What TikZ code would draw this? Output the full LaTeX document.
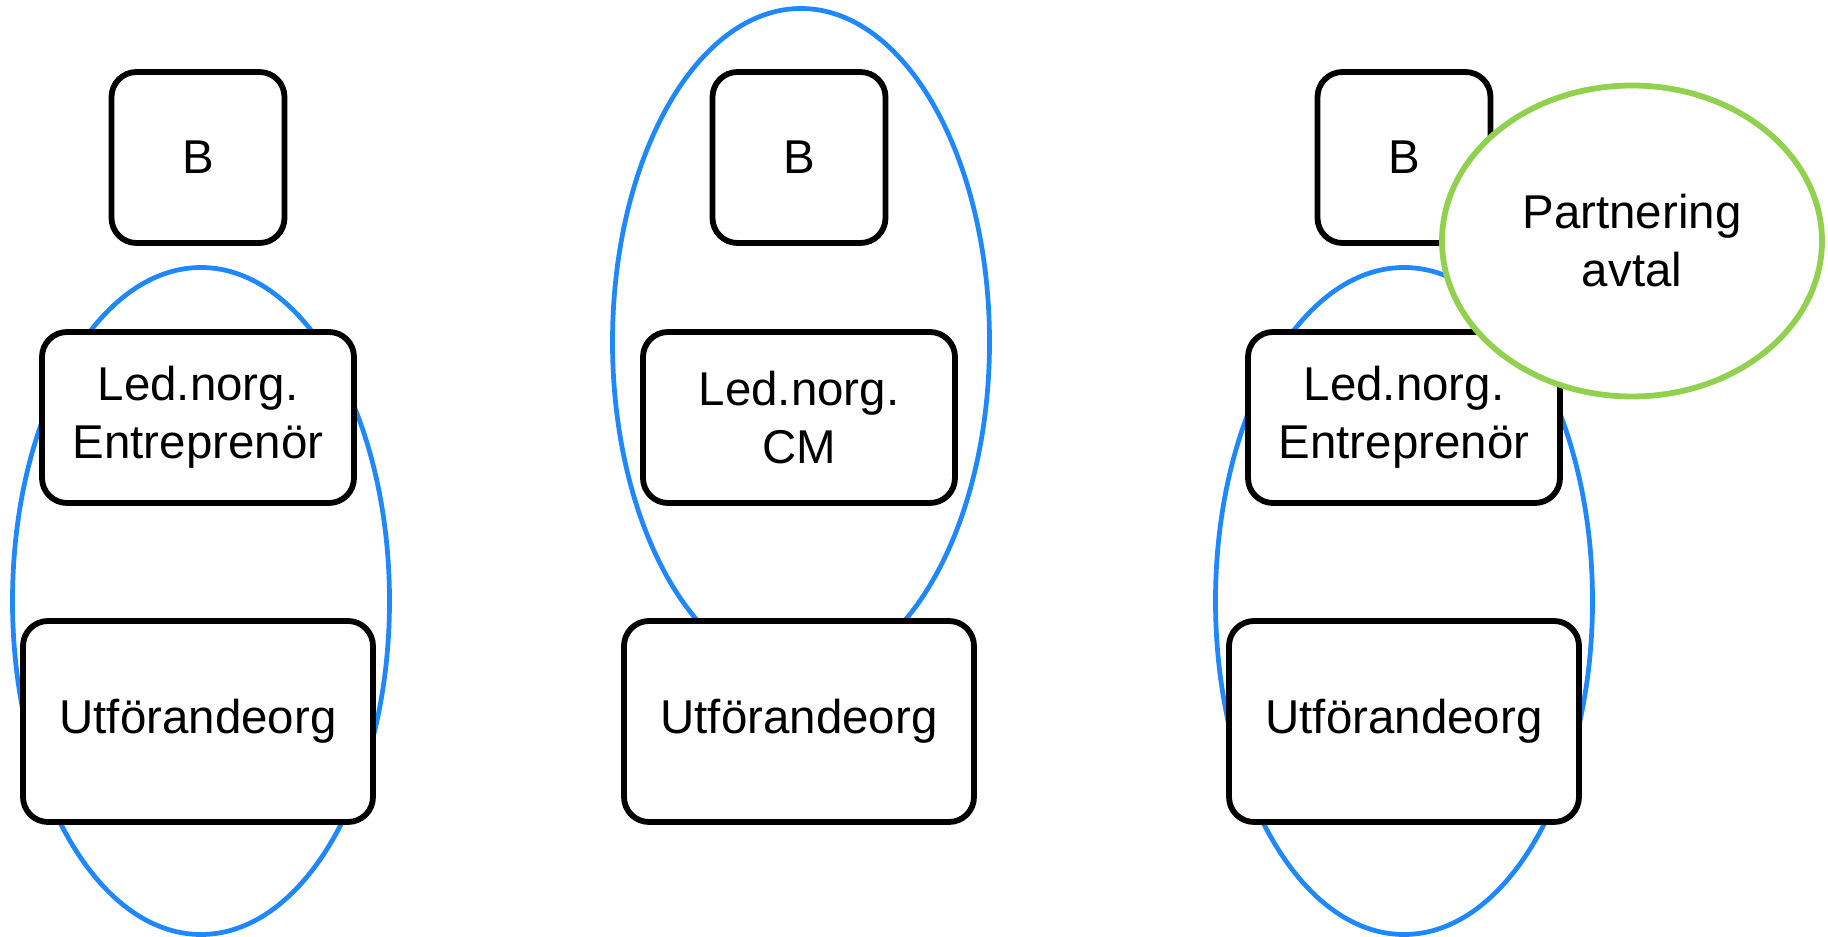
\documentclass[tikz,border=0pt]{standalone}
\usepackage{fontspec}
\setmainfont{Liberation Sans}
\usetikzlibrary{shapes.geometric}
\definecolor{grpblue}{RGB}{32,136,255}
\definecolor{avtalgreen}{RGB}{146,208,80}

\begin{document}
\begin{tikzpicture}
		\tikzset{
			orgbox/.style=
			{draw,line width=3.3pt,rounded corners=0.5cm,fill=white,align=center,
			font=\fontsize{27}{33}\selectfont,inner sep=0pt},
			grp/.style=
			{draw=grpblue,line width=2.7pt,ellipse,inner sep=0pt,
			minimum width=7.54cm,minimum height=13.34cm},
		}
		\useasboundingbox (0,0) rectangle (36.56,18.72);
		\begin{scope}[xshift=3.96cm]
		\node[grp] (grp1) at (0.06,6.70) {};
		\node[orgbox,minimum width=3.46cm,minimum height=3.42cm] (b1) at (0,15.57) {B};
		\node[orgbox,minimum width=6.24cm,minimum height=3.42cm] (led1) at (0,10.37) {Led.norg.\\Entreprenör};
		\node[orgbox,minimum width=7.0cm,minimum height=4.02cm] (utf1) at (0,4.29) {Utförandeorg};
		\end{scope}
		\begin{scope}[xshift=15.98cm]
		\node[grp] (grp2) at (0.04,11.88) {};
		\node[orgbox,minimum width=3.46cm,minimum height=3.42cm] (b2) at (0,15.57) {B};
		\node[orgbox,minimum width=6.24cm,minimum height=3.42cm] (led2) at (0,10.37) {Led.norg.\\CM};
		\node[orgbox,minimum width=7.0cm,minimum height=4.02cm] (utf2) at (0,4.29) {Utförandeorg};
		\end{scope}
		\begin{scope}[xshift=28.08cm]
		\node[grp] (grp3) at (0,6.70) {};
		\node[orgbox,minimum width=3.46cm,minimum height=3.42cm] (b3) at (0,15.57) {B};
		\node[orgbox,minimum width=6.24cm,minimum height=3.42cm] (led3) at (0,10.37) {Led.norg.\\Entreprenör};
		\node[orgbox,minimum width=7.0cm,minimum height=4.02cm] (utf3) at (0,4.29) {Utförandeorg};
		\end{scope}
		% partnering contract on top
		\node[draw=avtalgreen,line width=3.3pt,ellipse,fill=white,inner sep=0pt,
			minimum width=7.6cm,minimum height=6.22cm,align=center,
			font=\fontsize{27}{33}\selectfont] (avtal) at (32.64,13.9) {Partnering\\avtal};
		\end{tikzpicture}
\end{document}
